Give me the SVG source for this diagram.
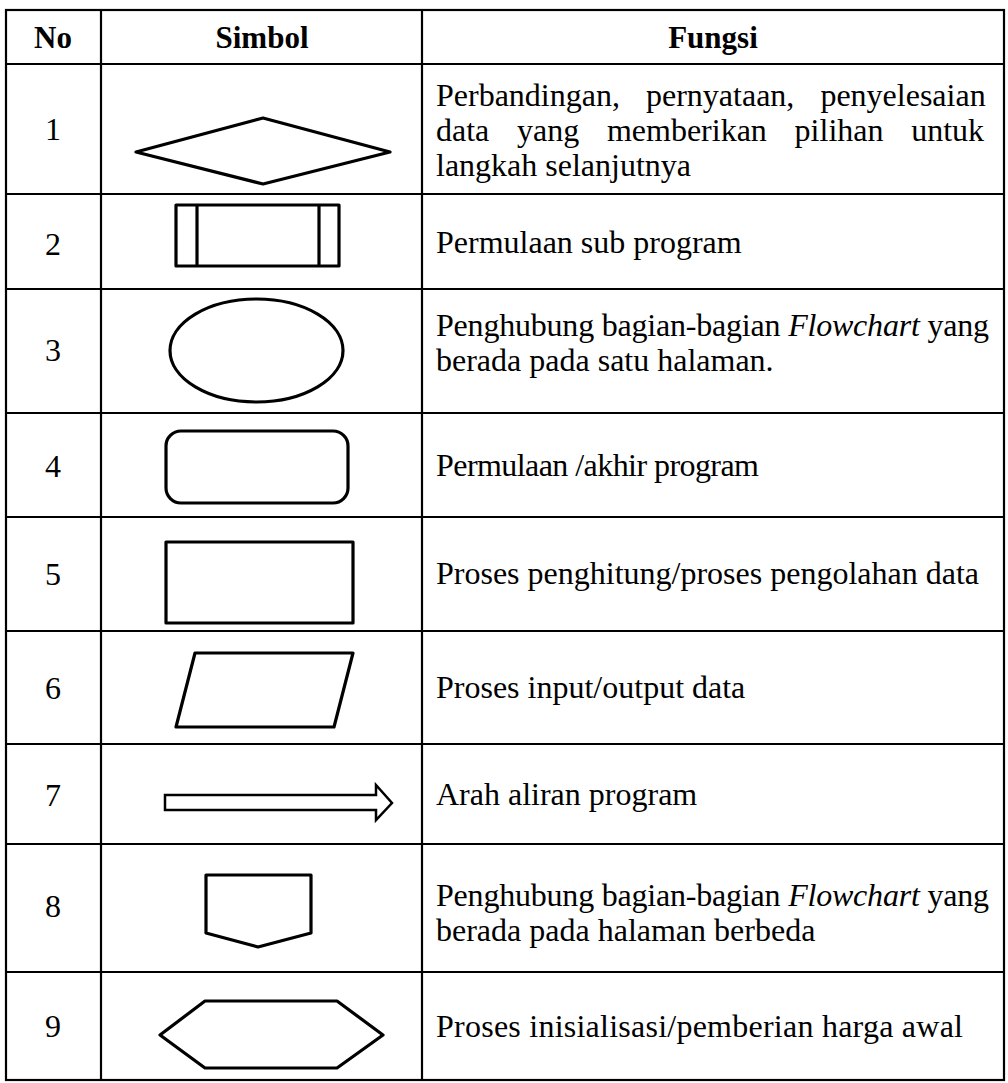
<svg xmlns="http://www.w3.org/2000/svg" width="1008" height="1083" viewBox="0 0 1008 1083">
<style>
  .grid { stroke:#000; stroke-width:2.2; fill:none; }
  .sym { stroke:#000; stroke-width:3.2; fill:#fff; stroke-linejoin:round; }
  .thin { stroke:#000; stroke-width:2.5; fill:#fff; }
  text { font-family:"Liberation Serif","Times New Roman",serif; font-size:32px; fill:#000; }
  .hd { font-weight:bold; text-anchor:middle; font-size:31px; }
  .num { text-anchor:middle; }
  .it { font-style:italic; }
</style>
<rect width="1008" height="1083" fill="#fff"/>
<g id="table-grid" class="grid">
  <rect x="6" y="10" width="998" height="1070"/>
  <line x1="101" y1="10" x2="101" y2="1080"/>
  <line x1="422" y1="10" x2="422" y2="1080"/>
  <line x1="6" y1="64" x2="1004" y2="64"/>
  <line x1="6" y1="194" x2="1004" y2="194"/>
  <line x1="6" y1="289" x2="1004" y2="289"/>
  <line x1="6" y1="413" x2="1004" y2="413"/>
  <line x1="6" y1="517" x2="1004" y2="517"/>
  <line x1="6" y1="631" x2="1004" y2="631"/>
  <line x1="6" y1="744" x2="1004" y2="744"/>
  <line x1="6" y1="844" x2="1004" y2="844"/>
  <line x1="6" y1="972" x2="1004" y2="972"/>
</g>
<g id="connectors"></g>
<g id="header">
  <text class="hd" x="53" y="48">No</text>
  <text class="hd" x="262" y="48">Simbol</text>
  <text class="hd" x="713" y="48">Fungsi</text>
</g>
<g id="row1">
  <text class="num" x="53" y="140">1</text>
  <polygon class="sym" points="136,152 263,118 390,152 263,184"/>
  <text y="106"><tspan x="436">Perbandingan,</tspan><tspan x="646">pernyataan,</tspan><tspan x="820.4">penyelesaian</tspan></text>
  <text y="141"><tspan x="436">data</tspan><tspan x="517">yang</tspan><tspan x="606.9">memberikan</tspan><tspan x="794.6">pilihan</tspan><tspan x="911.2">untuk</tspan></text>
  <text x="436" y="176">langkah selanjutnya</text>
</g>
<g id="row2">
  <text class="num" x="53" y="255">2</text>
  <rect class="sym" x="176" y="205" width="163" height="61"/>
  <line class="sym" x1="197" y1="205" x2="197" y2="266"/>
  <line class="sym" x1="319" y1="205" x2="319" y2="266"/>
  <text x="436" y="253">Permulaan sub program</text>
</g>
<g id="row3">
  <text class="num" x="53" y="361">3</text>
  <ellipse class="sym" cx="256.5" cy="350.5" rx="86.5" ry="51.5"/>
  <text x="436" y="336" textLength="553" lengthAdjust="spacing">Penghubung bagian-bagian <tspan class="it">Flowchart</tspan> yang</text>
  <text x="436" y="371">berada pada satu halaman.</text>
</g>
<g id="row4">
  <text class="num" x="53" y="477">4</text>
  <rect class="sym" x="166" y="431" width="182" height="72" rx="15" ry="15"/>
  <text x="436" y="476" textLength="323" lengthAdjust="spacing">Permulaan /akhir program</text>
</g>
<g id="row5">
  <text class="num" x="53" y="585">5</text>
  <rect class="sym" x="166" y="542" width="187" height="81"/>
  <text x="436" y="584">Proses penghitung/proses pengolahan data</text>
</g>
<g id="row6">
  <text class="num" x="53" y="699">6</text>
  <polygon class="sym" points="195,653 353,653 334,727 176,727"/>
  <text x="436" y="698">Proses input/output data</text>
</g>
<g id="row7">
  <text class="num" x="53" y="806">7</text>
  <polygon class="thin" points="165,795 376,795 376,785 392,803 376,820 376,810 165,810"/>
  <text x="436" y="805">Arah aliran program</text>
</g>
<g id="row8">
  <text class="num" x="53" y="917">8</text>
  <polygon class="sym" points="206,875 311,875 311,933 258,947 206,933"/>
  <text x="436" y="906" textLength="553" lengthAdjust="spacing">Penghubung bagian-bagian <tspan class="it">Flowchart</tspan> yang</text>
  <text x="436" y="941">berada pada halaman berbeda</text>
</g>
<g id="row9">
  <text class="num" x="53" y="1037">9</text>
  <polygon class="sym" points="160,1035 205,1001 337,1001 383,1035 337,1068 205,1068"/>
  <text x="436" y="1037" textLength="527" lengthAdjust="spacing">Proses inisialisasi/pemberian harga awal</text>
</g>
</svg>
